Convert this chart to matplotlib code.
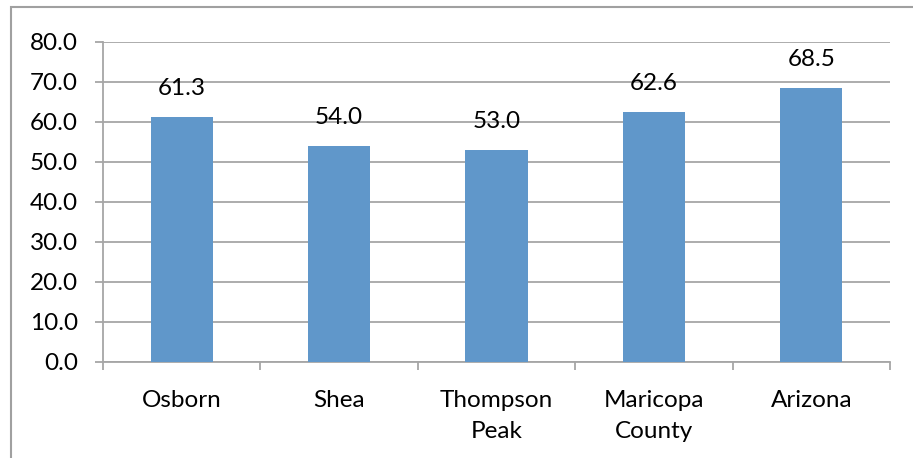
import matplotlib
matplotlib.use("Agg")
import matplotlib.pyplot as plt
from matplotlib.patches import Rectangle

categories = ["Osborn", "Shea", "Thompson\nPeak", "Maricopa\nCounty", "Arizona"]
values = [61.3, 54.0, 53.0, 62.6, 68.5]
yticks = [0, 10, 20, 30, 40, 50, 60, 70, 80]

plt.rcParams['font.family'] = ['Lato', 'DejaVu Sans']
W, H = 913, 458
fig = plt.figure(figsize=(W/100, H/100), dpi=100)
ax = fig.add_axes([103/W, 1-362/H, (890-103)/W, (362-42)/H])

grid_c = "#A6A6A6"
bar_c = "#6097CA"
fs = 17.5
x = list(range(len(categories)))
ax.bar(x, values, width=0.395, color=bar_c, zorder=3)
for xi, v in zip(x, values):
    ax.annotate(f"{v:.1f}", (xi, v), xytext=(0, 13), textcoords="offset points",
                ha="center", va="bottom", fontsize=fs, color="black")

ax.set_xlim(-0.5, len(categories)-0.5)
ax.set_ylim(0, 80)
ax.set_yticks(yticks)
ax.set_yticklabels([f"{t:.1f}" for t in yticks], fontsize=fs)
ax.yaxis.grid(True, color=grid_c, lw=1.3, zorder=0)
ax.tick_params(axis="y", length=6, width=1.3, color=grid_c, pad=12)

ax.set_xticks([i - 0.5 for i in range(len(categories)+1)])
ax.set_xticklabels([])
ax.set_xticks(x, minor=True)
ax.set_xticklabels(categories, minor=True, fontsize=fs, linespacing=1.6)
ax.tick_params(axis="x", which="major", length=6, width=1.3, color=grid_c)
ax.tick_params(axis="x", which="minor", length=0, pad=20)

for s in ["top", "right"]:
    ax.spines[s].set_visible(False)
for s in ["left", "bottom"]:
    ax.spines[s].set_color(grid_c)
    ax.spines[s].set_linewidth(1.3)

fig.patches.append(Rectangle((10.5/W, -0.1), 1.2, 1.1 - 7/H, transform=fig.transFigure,
                             fill=False, edgecolor="#A0A0A0", lw=1.5))
fig.savefig("out.png", dpi=100)
